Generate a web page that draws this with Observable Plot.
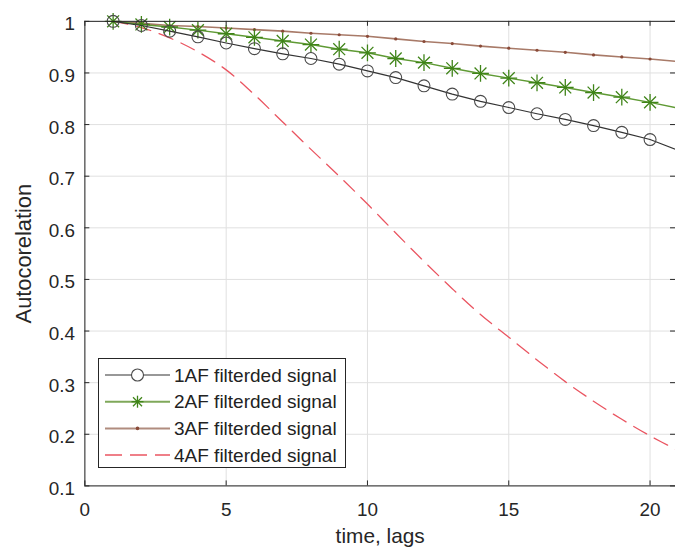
<!DOCTYPE html>
<html><head><meta charset="utf-8">
<script src="https://cdn.jsdelivr.net/npm/d3@7"></script>
<script src="https://cdn.jsdelivr.net/npm/@observablehq/plot@0.6"></script>
<style>
html,body{margin:0;padding:0;overflow:hidden;background:#fff;}
#wrap{position:relative;width:675px;height:554px;overflow:hidden;}
#legend{position:absolute;}
</style></head><body><div id="wrap"></div>
<script>
// ---- data ----
const lags = [1,2,3,4,5,6,7,8,9,10,11,12,13,14,15,16,17,18,19,20,21];
const af1 = [1.000,0.992,0.981,0.970,0.958,0.947,0.937,0.928,0.917,0.904,0.891,0.875,0.859,0.845,0.833,0.821,0.810,0.798,0.785,0.771,0.750];
const af2 = [1.000,0.994,0.989,0.983,0.976,0.969,0.962,0.955,0.946,0.939,0.928,0.920,0.909,0.899,0.890,0.881,0.872,0.862,0.853,0.843,0.832];
const af3 = [1.000,0.996,0.992,0.990,0.987,0.984,0.981,0.977,0.974,0.971,0.966,0.961,0.957,0.952,0.948,0.944,0.940,0.935,0.931,0.927,0.922];
const af4 = [1.000,0.988,0.968,0.941,0.906,0.858,0.805,0.752,0.700,0.646,0.590,0.535,0.482,0.432,0.388,0.344,0.302,0.264,0.229,0.197,0.168];
const seriesNames = ["1AF filterded signal","2AF filterded signal","3AF filterded signal","4AF filterded signal"];
const xTicks = [0,5,10,15,20];
const yTicks = [0.1,0.2,0.3,0.4,0.5,0.6,0.7,0.8,0.9,1];
const xLabel = "time, lags";
const yLabel = "Autocorelation";
const markerMaxLag = 20;

// ---- build tables ----
const rows = (vals, s) => lags.map((x, i) => ({x, y: vals[i], s}));
const d1 = rows(af1, seriesNames[0]);
const d2 = rows(af2, seriesNames[1]);
const d3r = rows(af3, seriesNames[2]);
const d4 = rows(af4, seriesNames[3]);
const marked = d => d.filter(r => r.x <= markerMaxLag);

const W = 680, H = 554, ML = 85, MT = 21, MB = 65;
const FW = W - ML, FH = H - MT - MB;
const axisColor = "#262626";
const gridColor = "#e0e0e0";
const C = {
  black: "#333333", blackMk: "#4a4a4a",
  green: "#5f9a34", greenMk: "#3f8418",
  brown: "#a87a68", brownMk: "#8a4a38",
  red: "#ea5561"
};

const chart = Plot.plot({
  width: W, height: H,
  marginLeft: ML, marginRight: 0, marginTop: MT, marginBottom: MB,
  style: {fontFamily: "'Liberation Sans', Arial, sans-serif", fontSize: "19px", color: axisColor, background: "#fff"},
  x: {domain: [0, 20.9]},
  y: {domain: [0.1, 1]},
  marks: [
    Plot.gridX(xTicks, {stroke: gridColor, strokeOpacity: 1}),
    Plot.gridY(yTicks, {stroke: gridColor, strokeOpacity: 1}),
    // 4AF dashed
    Plot.line(d4, {x: "x", y: "y", stroke: C.red, strokeWidth: 1.3, strokeDasharray: "15,9", curve: "catmull-rom", clip: true}),
    // 3AF
    Plot.line(d3r, {x: "x", y: "y", stroke: C.brown, strokeWidth: 1.6, clip: true}),
    Plot.dot(marked(d3r), {x: "x", y: "y", r: 1.6, fill: C.brownMk, stroke: "none"}),
    // 2AF
    Plot.line(d2, {x: "x", y: "y", stroke: C.green, strokeWidth: 1.5, clip: true}),
    Plot.dot(marked(d2), {x: "x", y: "y", r: 5.5, symbol: "plus", stroke: C.greenMk, strokeWidth: 1.3, fill: "none"}),
    Plot.dot(marked(d2), {x: "x", y: "y", r: 5.5, symbol: "times", stroke: C.greenMk, strokeWidth: 1.3, fill: "none"}),
    // 1AF
    Plot.line(d1, {x: "x", y: "y", stroke: C.black, strokeWidth: 1.2, clip: true}),
    Plot.dot(marked(d1), {x: "x", y: "y", r: 6, stroke: C.blackMk, strokeWidth: 1.1, fill: "none"}),
    // box + inward ticks
    Plot.frame({stroke: axisColor, strokeWidth: 1}),
    Plot.tickX(xTicks, {x: d => d, insetTop: FH - 5, stroke: axisColor}),
    Plot.tickX(xTicks, {x: d => d, insetBottom: FH - 5, stroke: axisColor}),
    Plot.tickY(yTicks, {y: d => d, insetRight: FW - 5, stroke: axisColor}),
    Plot.tickY(yTicks, {y: d => d, insetLeft: FW - 5, stroke: axisColor}),
    Plot.axisX({ticks: xTicks, tickSize: 0, tickPadding: 17, label: null, tickFormat: d => String(d)}),
    Plot.axisY({ticks: yTicks, tickSize: 0, tickPadding: 10, label: null, dy: 3, tickFormat: d => d3.format("~g")(d)}),
    Plot.text([xLabel], {frameAnchor: "bottom", dy: 51, text: d => d, fontSize: 21, fill: axisColor, textAnchor: "middle", lineAnchor: "middle"}),
    Plot.text([yLabel], {frameAnchor: "left", dx: -61, rotate: -90, text: d => d, fontSize: 22, fill: axisColor, textAnchor: "middle", lineAnchor: "middle"})
  ]
});
const wrap = document.getElementById("wrap");
wrap.appendChild(chart);

// ---- legend (inside axes, lower left) ----
const LW = 248, LH = 110;
const legend = d3.create("svg").attr("id", "legend").attr("width", LW).attr("height", LH)
  .style("left", "98px").style("top", "358px");
legend.append("rect").attr("x", 0.5).attr("y", 0.5).attr("width", LW - 1).attr("height", LH - 1)
  .attr("fill", "#fff").attr("stroke", axisColor).attr("stroke-width", 1);
const rowY = i => 17 + i * 26.7;
const lx1 = 7, lx2 = 72, lmx = 39.5, tx = 76;
const styles = [
  {stroke: C.black, w: 1.2},
  {stroke: "#7fa85a", w: 2},
  {stroke: "#b08c7e", w: 2},
  {stroke: C.red, w: 1.5, dash: "17,8"}
];
seriesNames.forEach((name, i) => {
  const y = rowY(i), st = styles[i];
  const ln = legend.append("line").attr("x1", lx1).attr("x2", lx2).attr("y1", y).attr("y2", y)
    .attr("stroke", st.stroke).attr("stroke-width", st.w);
  if (st.dash) ln.attr("stroke-dasharray", st.dash);
  if (i === 0) legend.append("circle").attr("cx", lmx).attr("cy", y).attr("r", 6).attr("fill", "#fff").attr("stroke", C.blackMk).attr("stroke-width", 1.1);
  if (i === 1) {
    const g = legend.append("g").attr("stroke", C.greenMk).attr("stroke-width", 1.3);
    const r = 6, q = r * 0.75;
    g.append("line").attr("x1", lmx).attr("x2", lmx).attr("y1", y - r).attr("y2", y + r);
    g.append("line").attr("x1", lmx - r).attr("x2", lmx + r).attr("y1", y).attr("y2", y);
    g.append("line").attr("x1", lmx - q).attr("x2", lmx + q).attr("y1", y - q).attr("y2", y + q);
    g.append("line").attr("x1", lmx - q).attr("x2", lmx + q).attr("y1", y + q).attr("y2", y - q);
  }
  if (i === 2) legend.append("circle").attr("cx", lmx).attr("cy", y).attr("r", 1.8).attr("fill", C.brownMk);
  legend.append("text").attr("x", tx).attr("y", y).attr("dy", "0.35em")
    .attr("font-family", "'Liberation Sans', Arial, sans-serif").attr("font-size", 19)
    .attr("fill", "#222").text(name);
});
wrap.appendChild(legend.node());
</script>
</body></html>
